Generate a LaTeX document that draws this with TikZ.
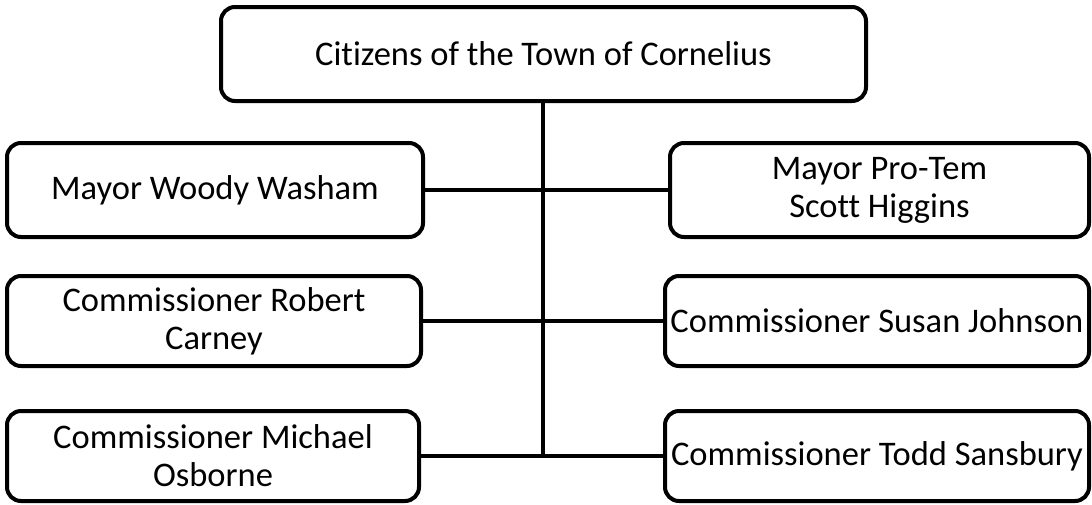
\documentclass[tikz,border=0pt]{standalone}
\usepackage{fontspec}
\setmainfont{Carlito}[Ligatures={NoCommon}]
\begin{document}
\begin{tikzpicture}[x=1pt,y=-1pt,
  box/.style={draw=black, line width=4pt, rounded corners=14pt, fill=white,
    inner sep=0pt, align=center, font=\fontsize{34.5}{38}\selectfont},
  link/.style={draw=black, line width=4pt}]
\useasboundingbox (0,0) rectangle (1092,504);
\node[box, minimum width=645pt, minimum height=94pt] (top) at (543.5,54) {Citizens of the Town of Cornelius};
\node[box, minimum width=416pt, minimum height=94pt] (l1) at (215,190) {Mayor Woody Washam};
\node[box, minimum width=419pt, minimum height=94pt] (r1) at (879.5,190) {Mayor Pro-Tem\\Scott Higgins};
\node[box, minimum width=414pt, minimum height=90pt] (l2) at (214,321) {Commissioner Robert\\Carney};
\node[box, minimum width=424pt, minimum height=90pt] (r2) at (877,321) {Commissioner Susan Johnson};
\node[box, minimum width=412pt, minimum height=90pt] (l3) at (213,456) {Commissioner Michael\\Osborne};
\node[box, minimum width=424pt, minimum height=90pt] (r3) at (877,456) {Commissioner Todd Sansbury};
\coordinate (bot) at (543,456);
\draw[link] (top.south -| bot) -- (bot);
\draw[link] (l1.east) -- (r1.west);
\draw[link] (l2.east) -- (r2.west);
\draw[link] (l3.east) -- (r3.west);
\end{tikzpicture}
\end{document}
